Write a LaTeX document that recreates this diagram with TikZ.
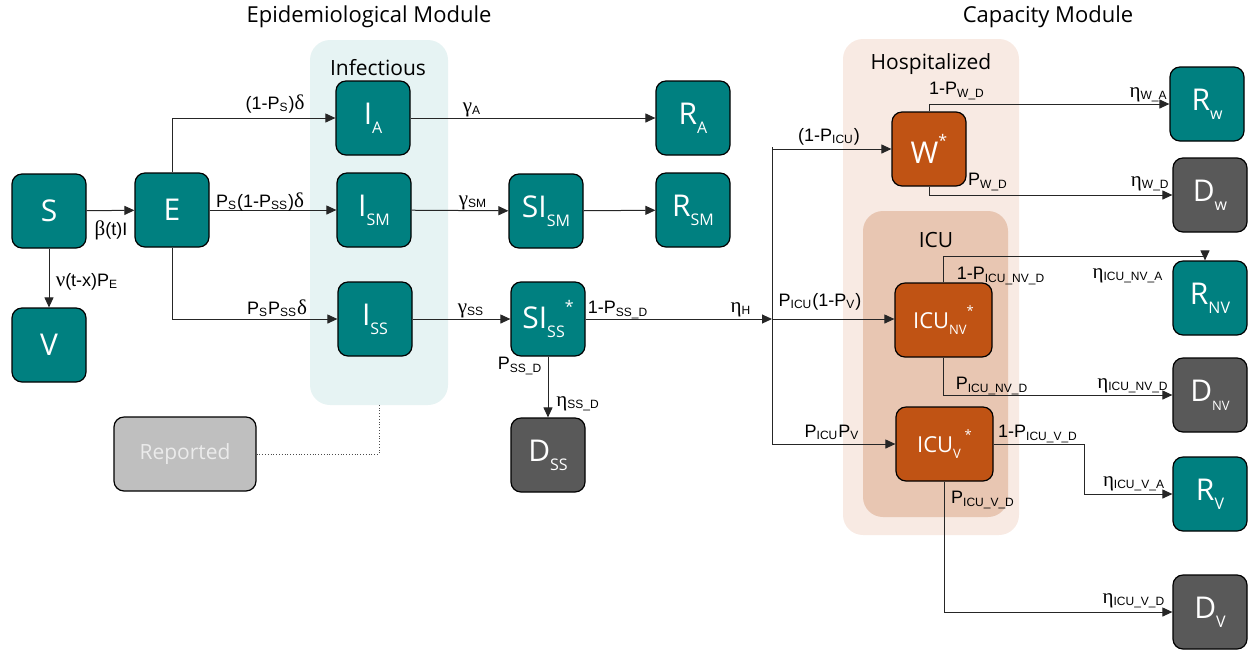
\documentclass[tikz,border=0pt]{standalone}
\usepackage{fontspec}
\setmainfont{Liberation Sans}
\newfontfamily\segfont{Open Sans}
\newfontfamily\grkfont{Liberation Serif}
\usetikzlibrary{arrows.meta,calc}
\definecolor{Cteal}{RGB}{0,128,128}
\definecolor{Cdead}{RGB}{89,89,89}
\definecolor{Chosp}{RGB}{192,83,20}
\definecolor{Cinfbg}{RGB}{230,243,243}
\definecolor{Chospbg}{RGB}{248,234,227}
\definecolor{Cicubg}{RGB}{232,198,178}
\definecolor{Crep}{RGB}{191,191,191}
\newcommand{\nsub}[1]{\raisebox{-0.3em}{\fontsize{8}{9}\selectfont #1}}
\newcommand{\nsup}[1]{\raisebox{0.55em}{\fontsize{8}{9}\selectfont #1}}
\newcommand{\csub}[1]{\raisebox{-0.3em}{\fontsize{6.5}{7}\selectfont #1}}
\newcommand{\csup}[1]{\raisebox{0.6em}{\fontsize{6.5}{7}\selectfont #1}}
\newcommand{\lsub}[1]{\textsubscript{#1}}
\newcommand{\gk}[1]{{\grkfont\fontsize{10.5}{11}\selectfont #1}}

\begin{document}
\begin{tikzpicture}[x=0.5pt,y=-0.5pt,
    comp/.style={draw=black, line width=0.6pt, rounded corners=5pt,
      minimum width=37pt, minimum height=37pt, inner sep=0pt, text=white,
      font=\segfont\fontsize{15}{18}\selectfont},
    live/.style={comp, fill=Cteal},
    dead/.style={comp, fill=Cdead},
    hosp/.style={comp, fill=Chosp},
    icu/.style={hosp, minimum width=48.5pt, font=\segfont\fontsize{11}{13}\selectfont},
    grp/.style={rounded corners=10pt, inner sep=0pt},
    flow/.style={-{Triangle[length=5pt,width=4.5pt]}, line width=0.5pt, draw=black!85},
    lbl/.style={font=\fontsize{9}{11}\selectfont, inner sep=1pt},
    ttl/.style={font=\segfont\fontsize{11}{13}\selectfont},
    gttl/.style={font=\segfont\fontsize{10.5}{12}\selectfont}]
  \useasboundingbox (0,0) rectangle (1249,655);

  % ------------------------------------------------
  % group backgrounds
  % ------------------------------------------------
  \node[grp, fill=Cinfbg, minimum width=69pt, minimum height=182.5pt] (infbox) at (379,222.5) {};
  \node[grp, fill=Chospbg, minimum width=88pt, minimum height=248pt] (hospbox) at (931,287) {};
  \node[grp, fill=Cicubg, minimum width=72.5pt, minimum height=153pt] (icubox) at (935.5,364) {};

  \node[gttl] (infttl) at (378,68) {Infectious};
  \node[gttl] (hospttl) at (931,64) {Hospitalized};
  \node[gttl] (icuttl) at (936,240) {ICU};

  \node[ttl] (epittl) at (369,17) {Epidemiological Module};
  \node[ttl] (capttl) at (1048,17) {Capacity Module};

  % ------------------------------------------------
  % epidemiological compartments
  % ------------------------------------------------
  \node[live] (S) at (49,211) {S};
  \node[live] (V) at (49,345) {V};
  \node[live] (E) at (172,210) {E};
  \node[live] (IA) at (373,118) {I\nsub{A}};
  \node[live] (ISM) at (374,210) {I\nsub{SM}};
  \node[live] (ISS) at (375,319) {I\nsub{SS}};
  \node[live] (RA) at (693,118) {R\nsub{A}};
  \node[live] (SISM) at (546,211) {SI\nsub{SM}};
  \node[live] (RSM) at (693,210) {R\nsub{SM}};
  \node[live] (SISS) at (548,319) {SI\nsub{SS}\nsup{*}};
  \node[dead] (DSS) at (548,455) {D\nsub{SS}};
  \node[comp, fill=Crep, text=white!92!black, minimum width=71pt,
    font=\segfont\fontsize{10.5}{12}\selectfont] (Rep) at (185,454) {Reported};

  % ------------------------------------------------
  % capacity compartments
  % ------------------------------------------------
  \node[hosp] (W) at (929,149) {W\nsup{*}};
  \node[icu] (ICUnv) at (943.5,320) {ICU\csub{NV}\csup{*}};
  \node[icu] (ICUv) at (944.5,444) {ICU\csub{V}\,\csup{*}};
  \node[live] (Rw) at (1207,104) {R\nsub{w}};
  \node[dead] (Dw) at (1210,195) {D\nsub{w}};
  \node[live] (Rnv) at (1210,298) {R\nsub{NV}};
  \node[dead] (Dnv) at (1210,395) {D\csub{NV}};
  \node[live] (Rv) at (1210,494) {R\nsub{V}};
  \node[dead] (Dv) at (1210,612) {D\nsub{V}};

  \coordinate (hub) at (772,319);

  % ------------------------------------------------
  % flows
  % ------------------------------------------------
  \draw[flow] (S) -- (E);
  \draw[flow] (S) -- (V);
  \draw[flow] (E.north) |- (IA.west);
  \draw[flow] (E.east) -- (ISM.west);
  \draw[flow] (E.south) |- (ISS.west);
  \draw[flow] (IA) -- (RA);
  \draw[flow] (ISM) -- (SISM);
  \draw[flow] (SISM) -- (RSM);
  \draw[flow] (ISS) -- (SISS);
  \draw[flow] (SISS) -- (DSS);
  \draw[flow] (SISS.east) -- (hub);
  \draw[black!70, densely dotted, line width=0.4pt] (Rep.east) -| (infbox.south);

  \draw[line width=0.5pt, draw=black!85] (hub) ++(0,-172) -- ++(0,296);
  \draw[flow] (hub) |- (W.west);
  \draw[flow] (hub) -- (hub -| ICUnv.west);
  \draw[flow] (hub) |- (ICUv.west);

  \draw[flow] (W.north) |- (Rw.west);
  \draw[flow] (W.south) |- (Dw.west);
  \draw[flow] (ICUnv.north) -- ++(0,-26) -| ([xshift=-2.5pt]Rnv.north);
  \draw[flow] (ICUnv.south) |- (Dnv.west);
  \draw[flow] (ICUv.east) -- ++(91,0) |- (Rv.west);
  \draw[flow] (ICUv.south) |- (Dv.west);

  % ------------------------------------------------
  % rates
  % ------------------------------------------------
  \node[lbl] (lbeta) at (111,230) {\gk{β}(t)I};
  \node[lbl] (lnu) at (87,282) {\gk{ν}(t-x)P\lsub{E}};
  \node[lbl] (lda) at (275,104) {(1-P\lsub{S})\gk{δ}};
  \node[lbl] (ldsm) at (260,202) {P\lsub{S}(1-P\lsub{SS})\gk{δ}};
  \node[lbl] (ldss) at (277,308) {P\lsub{S}P\lsub{SS}\gk{δ}};
  \node[lbl] (lga) at (472,110) {\gk{γ}\lsub{A}};
  \node[lbl] (lgsm) at (473,203) {\gk{γ}\lsub{SM}};
  \node[lbl] (lgss) at (471,311) {\gk{γ}\lsub{SS}};
  \node[lbl] (lpss1) at (618,310) {1-P\lsub{SS\_D}};
  \node[lbl] (letah) at (741,310) {\gk{η}\lsub{H}};
  \node[lbl] (lpss) at (520,366) {P\lsub{SS\_D}};
  \node[lbl] (letass) at (578,404) {\gk{η}\lsub{SS\_D}};

  \node[lbl] (lpicu1) at (829,137) {(1-P\lsub{ICU})};
  \node[lbl] (lpicu2) at (820,302) {P\lsub{ICU}(1-P\lsub{V})};
  \node[lbl] (lpicu3) at (832,432) {P\lsub{ICU}P\lsub{V}};
  \node[lbl] (lpwd1) at (957,91) {1-P\lsub{W\_D}};
  \node[lbl] (lpwd) at (988,182) {P\lsub{W\_D}};
  \node[lbl, anchor=east] (letawa) at (1170,95) {\gk{η}\lsub{W\_A}};
  \node[lbl, anchor=east] (letawd) at (1172,184) {\gk{η}\lsub{W\_D}};
  \node[lbl] (lpnv1) at (1001,276) {1-P\lsub{ICU\_NV\_D}};
  \node[lbl] (letanva) at (1128,276) {\gk{η}\lsub{ICU\_NV\_A}};
  \node[lbl] (lpnv) at (992,386) {P\lsub{ICU\_NV\_D}};
  \node[lbl] (letanvd) at (1133,386) {\gk{η}\lsub{ICU\_NV\_D}};
  \node[lbl] (lpv1) at (1038,434) {1-P\lsub{ICU\_V\_D}};
  \node[lbl] (letava) at (1134,484) {\gk{η}\lsub{ICU\_V\_A}};
  \node[lbl] (lpv) at (983,500) {P\lsub{ICU\_V\_D}};
  \node[lbl] (letavd) at (1134,601) {\gk{η}\lsub{ICU\_V\_D}};
\end{tikzpicture}
\end{document}
